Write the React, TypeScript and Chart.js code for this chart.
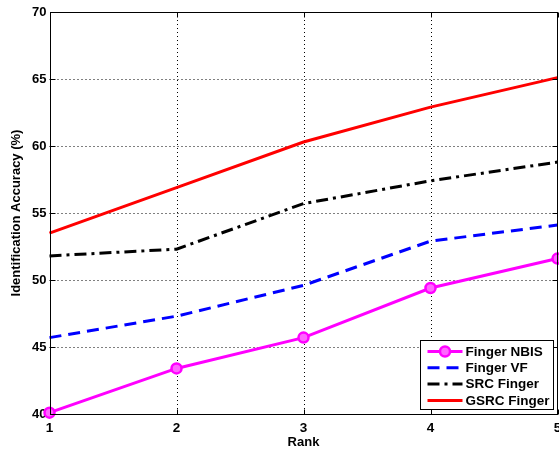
import { useEffect, useRef } from "react";
import { Chart, registerables } from "chart.js";

Chart.register(...registerables);

const ranks = ["1", "2", "3", "4", "5"];
const fingerNBIS = [40.1, 43.4, 45.7, 49.4, 51.6];
const fingerVF = [45.7, 47.3, 49.6, 52.9, 54.1];
const srcFinger = [51.8, 52.3, 55.7, 57.4, 58.8];
const gsrcFinger = [53.5, 56.9, 60.3, 62.9, 65.1];
const seriesNames = ["Finger NBIS", "Finger VF", "SRC Finger", "GSRC Finger"];
const yMin = 40;
const yMax = 70;
const yStep = 5;

const FONT = "'Liberation Sans', Arial, sans-serif";

const zeroPad = () => ({ left: 0, top: 0, right: 0, bottom: 0 });

const framePlugin = {
  id: "frame",
  beforeDatasetsDraw(chart: any) {
    const { ctx, chartArea: a, scales } = chart;
    const xs = scales.x;
    const ys = scales.y;
    ctx.save();
    ctx.strokeStyle = "#000";
    ctx.lineWidth = 1;
    ctx.setLineDash([1, 3]);
    ranks.forEach((_, i) => {
      if (i === 0 || i === ranks.length - 1) return;
      const x = Math.round(xs.getPixelForValue(i)) + 0.5;
      ctx.beginPath();
      ctx.moveTo(x, a.top);
      ctx.lineTo(x, a.bottom);
      ctx.stroke();
    });
    for (let v = yMin + yStep; v < yMax; v += yStep) {
      const y = Math.round(ys.getPixelForValue(v)) + 0.5;
      ctx.beginPath();
      ctx.moveTo(a.left, y);
      ctx.lineTo(a.right, y);
      ctx.stroke();
    }
    ctx.restore();
  },
  afterDatasetsDraw(chart: any) {
    const { ctx, chartArea: a, scales } = chart;
    const xs = scales.x;
    const ys = scales.y;
    ctx.save();
    ctx.strokeStyle = "#000";
    ctx.lineWidth = 1;
    ctx.setLineDash([]);
    const L = Math.round(a.left) + 0.5;
    const R = Math.round(a.right) - 0.5;
    const T = Math.round(a.top) + 0.5;
    const B = Math.round(a.bottom) + 0.5;
    ctx.strokeRect(L, T, R - L, B - T);
    const tl = 5;
    ranks.forEach((_, i) => {
      const x = Math.round(xs.getPixelForValue(i)) + 0.5;
      ctx.beginPath();
      ctx.moveTo(x, B);
      ctx.lineTo(x, B - tl);
      ctx.moveTo(x, T);
      ctx.lineTo(x, T + tl);
      ctx.stroke();
    });
    for (let v = yMin; v <= yMax; v += yStep) {
      const y = Math.round(ys.getPixelForValue(v)) + 0.5;
      ctx.beginPath();
      ctx.moveTo(L, y);
      ctx.lineTo(L + tl, y);
      ctx.moveTo(R, y);
      ctx.lineTo(R - tl, y);
      ctx.stroke();
    }
    ctx.restore();
  },
};

const legendPlugin = {
  id: "boxLegend",
  afterDraw(chart: any) {
    const { ctx, chartArea: a } = chart;
    const w = 133;
    const h = 69;
    const x0 = Math.round(a.right - 4.5 - w) + 0.5;
    const y0 = Math.round(a.bottom - 5 - h) + 0.5;
    ctx.save();
    ctx.fillStyle = "#fff";
    ctx.fillRect(x0, y0, w, h);
    ctx.strokeStyle = "#000";
    ctx.lineWidth = 1;
    ctx.setLineDash([]);
    ctx.strokeRect(x0, y0, w, h);
    ctx.font = `bold 13.5px ${FONT}`;
    ctx.textBaseline = "middle";
    ctx.textAlign = "left";
    chart.data.datasets.forEach((ds: any, i: number) => {
      const y = y0 + 11 + i * 16.3;
      ctx.save();
      ctx.strokeStyle = ds.borderColor;
      ctx.lineWidth = ds.borderWidth;
      ctx.lineCap = "butt";
      ctx.setLineDash(ds.borderDash || []);
      ctx.beginPath();
      ctx.moveTo(x0 + 7, y);
      ctx.lineTo(x0 + 42, y);
      ctx.stroke();
      if (ds.pointRadius > 0) {
        ctx.setLineDash([]);
        ctx.lineWidth = ds.pointBorderWidth;
        ctx.strokeStyle = ds.pointBorderColor;
        ctx.fillStyle = ds.pointBackgroundColor;
        ctx.beginPath();
        ctx.arc(x0 + 24.5, y, ds.pointRadius, 0, Math.PI * 2);
        ctx.fill();
        ctx.stroke();
      }
      ctx.restore();
      ctx.fillStyle = "#000";
      ctx.fillText(ds.label, x0 + 45, y + 0.5);
    });
    ctx.restore();
  },
};

export default function App() {
  const ref = useRef<HTMLCanvasElement | null>(null);
  useEffect(() => {
    if (!ref.current) return;
    const chart = new Chart(ref.current, {
      type: "line",
      data: {
        labels: ranks,
        datasets: [
          {
            label: seriesNames[0],
            data: fingerNBIS,
            borderColor: "#ff00ff",
            borderWidth: 3,
            pointRadius: 5,
            pointBorderWidth: 2.5,
            pointBackgroundColor: "#ff66ff",
            pointBorderColor: "#ff00ff",
            clip: false,
          } as any,
          {
            label: seriesNames[1],
            data: fingerVF,
            borderColor: "#0000ff",
            borderWidth: 3,
            borderDash: [12, 7],
            pointRadius: 0,
          },
          {
            label: seriesNames[2],
            data: srcFinger,
            borderColor: "#000000",
            borderWidth: 3,
            borderDash: [12, 5, 3, 5],
            pointRadius: 0,
          },
          {
            label: seriesNames[3],
            data: gsrcFinger,
            borderColor: "#ff0000",
            borderWidth: 3,
            pointRadius: 0,
          },
        ] as any,
      },
      options: {
        animation: false,
        responsive: false,
        layout: { autoPadding: false, padding: { top: 12, right: 1.5, left: 0, bottom: 0 } },
        plugins: { legend: { display: false }, tooltip: { enabled: false } },
        elements: { line: { tension: 0, borderCapStyle: "butt" } },
        scales: {
          x: {
            type: "category",
            offset: false,
            grid: { display: false, drawTicks: false },
            border: { display: false },
            ticks: {
              color: "#000",
              font: { family: FONT, size: 13.5, weight: "bold" },
              padding: 6,
              maxRotation: 0,
            },
            title: {
              display: true,
              text: "Rank",
              color: "#000",
              font: { family: FONT, size: 13, weight: "bold" },
              padding: { top: 0, bottom: 4 },
            },
            afterFit: (s: any) => {
              s.height = 40;
              s.paddingLeft = 0;
              s.paddingRight = 0;
              s.getPadding = zeroPad;
            },
          },
          y: {
            min: yMin,
            max: yMax,
            grid: { display: false, drawTicks: false },
            border: { display: false },
            ticks: {
              stepSize: yStep,
              color: "#000",
              font: { family: FONT, size: 13, weight: "bold" },
              padding: 3,
            },
            title: {
              display: true,
              text: "Identification Accuracy (%)",
              color: "#000",
              font: { family: FONT, size: 13, weight: "bold" },
              padding: { top: 9, bottom: 0 },
            },
            afterFit: (s: any) => {
              s.width = 49.5;
              s.paddingTop = 0;
              s.paddingBottom = 0;
              s.getPadding = zeroPad;
            },
          },
        },
      },
      plugins: [framePlugin, legendPlugin],
    });
    return () => chart.destroy();
  }, []);
  return (
    <div style={{ position: "fixed", left: 0, top: 0, width: 559, height: 454, background: "#fff" }}>
      <canvas ref={ref} width={559} height={454} />
    </div>
  );
}
